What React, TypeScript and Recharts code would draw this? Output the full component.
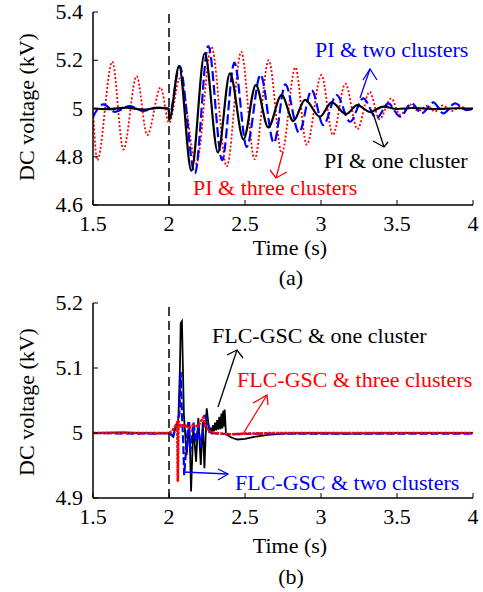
import { LineChart, Line, XAxis, YAxis, ReferenceLine } from 'recharts';

const FONT = "'Liberation Serif', 'Times New Roman', serif";

const timeTicks = [1.5, 2, 2.5, 3, 3.5, 4];
const voltTicksA = [4.6, 4.8, 5, 5.2, 5.4];
const voltTicksB = [4.9, 5, 5.1, 5.2];

// (a) PI controller, [time s, voltage kV]
const piOne = [
  [1.5, 5.0], [1.6, 4.997], [1.72, 5.004], [1.83, 4.995], [1.93, 5.003], [1.997, 5.0],
  [2.003, 4.955], [2.066, 5.176], [2.147, 4.742], [2.235, 5.229], [2.322, 4.818],
  [2.401, 5.146], [2.49, 4.872], [2.571, 5.097], [2.653, 4.922], [2.741, 5.056],
  [2.818, 4.948], [2.895, 5.036], [2.993, 4.966], [3.07, 5.025], [3.165, 4.977],
  [3.239, 5.014], [3.322, 4.986], [3.41, 5.008], [3.5, 4.998], [3.6, 5.002],
  [3.75, 4.998], [3.9, 5.001], [4.0, 5.0],
];
const piTwo = [
  [1.5, 4.966], [1.568, 5.017], [1.645, 4.986], [1.743, 5.01], [1.831, 4.99], [1.908, 5.003],
  [1.997, 5.0], [2.003, 4.975], [2.07, 5.176], [2.17, 4.731], [2.258, 5.259], [2.35, 4.786],
  [2.43, 5.19], [2.511, 4.841], [2.602, 5.14], [2.69, 4.858], [2.765, 5.1], [2.855, 4.9],
  [2.939, 5.076], [3.015, 4.931], [3.103, 5.056], [3.191, 4.945], [3.278, 5.042],
  [3.366, 4.96], [3.443, 5.021], [3.52, 4.966], [3.597, 5.021], [3.663, 4.98],
  [3.739, 5.025], [3.805, 4.98], [3.882, 5.021], [3.958, 4.993], [4.0, 5.0],
];
const piThree = [
  [1.5, 5.0], [1.528, 4.786], [1.627, 5.194], [1.7, 4.83], [1.787, 5.134], [1.857, 4.89],
  [1.945, 5.087], [2.0, 4.94], [2.072, 5.125], [2.18, 4.772], [2.279, 5.256], [2.38, 4.76],
  [2.475, 5.235], [2.563, 4.79], [2.656, 5.2], [2.742, 4.815], [2.831, 5.17], [2.906, 4.85],
  [3.003, 5.139], [3.078, 4.89], [3.16, 5.103], [3.24, 4.915], [3.32, 5.069], [3.385, 4.955],
  [3.462, 5.042], [3.52, 4.973], [3.586, 5.017], [3.64, 4.99], [3.7, 5.012], [3.75, 4.987],
  [3.8, 5.013], [3.86, 4.99], [3.92, 5.008], [3.97, 4.993], [4.0, 5.0],
];

// (b) FLC-GSC
const flcOne = [
  [1.5, 5.0], [1.7, 5.001], [1.9, 4.999], [2.0, 5.0], [2.028, 4.994], [2.046, 5.012],
  [2.061, 5.017], [2.072, 5.1], [2.077, 5.169], [2.085, 5.172], [2.098, 5.028],
  [2.116, 4.966], [2.134, 5.017], [2.145, 4.91], [2.16, 5.012], [2.178, 4.956],
  [2.193, 5.023], [2.209, 4.951], [2.222, 5.017], [2.233, 4.946], [2.248, 5.038],
  [2.266, 5.0], [2.275, 5.006], [2.282, 5.002], [2.29, 5.012], [2.296, 5.003],
  [2.303, 5.016], [2.31, 5.004], [2.317, 5.02], [2.324, 5.005], [2.331, 5.025],
  [2.338, 5.006], [2.345, 5.03], [2.351, 5.007], [2.357, 5.034], [2.362, 5.01],
  [2.366, 5.036], [2.375, 4.998], [2.41, 4.993], [2.45, 4.99], [2.5, 4.991], [2.56, 4.994],
  [2.65, 4.997], [2.75, 4.999], [2.9, 5.0], [3.2, 4.999], [3.5, 5.0], [4.0, 5.0],
];
const flcTwo = [
  [1.5, 5.0], [1.8, 4.999], [2.0, 5.0], [2.028, 4.996], [2.05, 5.012], [2.068, 5.03],
  [2.077, 5.094], [2.085, 5.03], [2.093, 4.99], [2.1, 4.935], [2.108, 4.96],
  [2.127, 5.017], [2.14, 4.971], [2.16, 5.017], [2.178, 4.987], [2.193, 5.012],
  [2.209, 4.978], [2.237, 5.028], [2.259, 5.012], [2.27, 5.0], [2.4, 4.998],
  [2.6, 4.999], [3.0, 4.999], [3.5, 4.999], [4.0, 4.999],
];
const flcThree = [
  [1.5, 5.0], [1.8, 5.0], [2.0, 5.0], [2.02, 5.003], [2.04, 5.01], [2.055, 5.016],
  [2.058, 4.925], [2.062, 5.018], [2.075, 5.01], [2.1, 5.013], [2.13, 5.008],
  [2.16, 5.012], [2.19, 5.01], [2.21, 5.018], [2.226, 5.024], [2.24, 5.012],
  [2.259, 5.003], [2.3, 5.0], [2.4, 4.998], [2.5, 4.999], [2.7, 5.0], [4.0, 5.0],
];

const rows = (pts: number[][]) => pts.map(([t, v]) => ({ t, v }));

const txt = { fontFamily: FONT, fontSize: 22 };

const BottomTick = ({ x, y, payload }: any) => (
  <g>
    <line x1={x} y1={y} x2={x} y2={y - 5} stroke="#000" strokeWidth={1} />
    <text x={x} y={y + 26} textAnchor="middle" fill="#000" style={txt}>
      {String(payload.value)}
    </text>
  </g>
);
const TopTick = ({ x, y }: any) => (
  <line x1={x} y1={y} x2={x} y2={y + 5} stroke="#000" strokeWidth={1} />
);
const LeftTick = ({ x, y, payload }: any) => (
  <g>
    <line x1={x} y1={y} x2={x + 5} y2={y} stroke="#000" strokeWidth={1} />
    <text x={x - 10} y={y + 7} textAnchor="end" fill="#000" style={txt}>
      {String(payload.value)}
    </text>
  </g>
);
const RightTick = ({ x, y }: any) => (
  <line x1={x} y1={y} x2={x - 5} y2={y} stroke="#000" strokeWidth={1} />
);

const Frame = ({ yTicks, domain }: { yTicks: number[]; domain: number[] }) => [
  <XAxis key="xb" dataKey="t" type="number" domain={[1.5, 4]} ticks={timeTicks} interval={0}
    allowDataOverflow height={94} tickSize={0} tickMargin={0} tick={<BottomTick />}
    axisLine={{ stroke: '#000', strokeWidth: 1.5 }} tickLine={false} />,
  <XAxis key="xt" xAxisId="top" orientation="top" type="number" domain={[1.5, 4]}
    ticks={timeTicks} interval={0} height={0} tickSize={0} tickMargin={0} tick={<TopTick />}
    axisLine={{ stroke: '#000', strokeWidth: 1.5 }} tickLine={false} />,
  <YAxis key="yl" dataKey="v" type="number" domain={domain} ticks={yTicks} interval={0}
    allowDataOverflow width={93} tickSize={0} tickMargin={0} tick={<LeftTick />}
    axisLine={{ stroke: '#000', strokeWidth: 1.5 }} tickLine={false} />,
  <YAxis key="yr" yAxisId="right" orientation="right" type="number" domain={domain}
    ticks={yTicks} interval={0} width={0} tickSize={0} tickMargin={0} tick={<RightTick />}
    axisLine={{ stroke: '#000', strokeWidth: 1.5 }} tickLine={false} />,
];

const Arrow = ({ x1, y1, x2, y2, w1, w2, color }: any) => (
  <g stroke={color} strokeWidth={1.3} fill="none">
    <line x1={x1} y1={y1} x2={x2} y2={y2} />
    <polyline points={`${w1[0]},${w1[1]} ${x2},${y2} ${w2[0]},${w2[1]}`} />
  </g>
);

export default function App() {
  return (
    <div style={{ position: 'absolute', left: 0, top: 0, width: 483, height: 592, background: '#fff' }}>
      <div style={{ position: 'absolute', left: 0, top: 0 }}>
        <LineChart width={483} height={299} margin={{ top: 12, right: 10, bottom: 0, left: 0 }}>
          {Frame({ yTicks: voltTicksA, domain: [4.6, 5.4] })}
          <ReferenceLine x={2} stroke="#000" strokeWidth={1.5} strokeDasharray="9 5" />
          <Line data={rows(piThree)} dataKey="v" type="monotone" stroke="#ff0000" strokeWidth={1.8}
            strokeDasharray="2 2" dot={false} activeDot={false} isAnimationActive={false} />
          <Line data={rows(piTwo)} dataKey="v" type="monotone" stroke="#0000ff" strokeWidth={2.2}
            strokeDasharray="10 4" dot={false} activeDot={false} isAnimationActive={false} />
          <Line data={rows(piOne)} dataKey="v" type="monotone" stroke="#000" strokeWidth={2.2}
            dot={false} activeDot={false} isAnimationActive={false} />
        </LineChart>
      </div>
      <div style={{ position: 'absolute', left: 0, top: 291 }}>
        <LineChart width={483} height={301} margin={{ top: 12, right: 10, bottom: 0, left: 0 }}>
          {Frame({ yTicks: voltTicksB, domain: [4.9, 5.2] })}
          <ReferenceLine x={2} stroke="#000" strokeWidth={1.5} strokeDasharray="9 5" />
          <Line data={rows(flcOne)} dataKey="v" type="linear" stroke="#000" strokeWidth={1.8}
            dot={false} activeDot={false} isAnimationActive={false} />
          <Line data={rows(flcTwo)} dataKey="v" type="linear" stroke="#0000ff" strokeWidth={2.2}
            strokeDasharray="8 3" dot={false} activeDot={false} isAnimationActive={false} />
          <Line data={rows(flcThree)} dataKey="v" type="linear" stroke="#ff0000" strokeWidth={2.6}
            strokeDasharray="3 1" dot={false} activeDot={false} isAnimationActive={false} />
        </LineChart>
      </div>
      <svg width={483} height={592} style={{ position: 'absolute', left: 0, top: 0, pointerEvents: 'none' }}>
        <g style={txt} fill="#000">
          <text transform="translate(27,107) rotate(-90)" y={7} textAnchor="middle">DC voltage (kV)</text>
          <text x={290} y={255} textAnchor="middle">Time (s)</text>
          <text x={291} y={285} textAnchor="middle">(a)</text>
          <text transform="translate(27,402) rotate(-90)" y={7} textAnchor="middle">DC voltage (kV)</text>
          <text x={290} y={553} textAnchor="middle">Time (s)</text>
          <text x={291} y={584} textAnchor="middle">(b)</text>
        </g>
        <text x={315} y={57} fill="#0000ff" style={txt}>PI &amp; two clusters</text>
        <Arrow x1={360} y1={98} x2={370} y2={69} w1={[363, 80]} w2={[377, 80]} color="#0000ff" />
        <text x={324} y={168} fill="#000" style={txt}>PI &amp; one cluster</text>
        <Arrow x1={373} y1={113} x2={384} y2={147} w1={[373, 141]} w2={[388, 142]} color="#000" />
        <text x={193} y={195} fill="#ff0000" style={txt}>PI &amp; three clusters</text>
        <Arrow x1={283} y1={152} x2={276} y2={178} w1={[270, 170]} w2={[287, 172]} color="#ff0000" />

        <text x={212} y={343} fill="#000" style={txt}>FLC-GSC &amp; one cluster</text>
        <Arrow x1={218} y1={407} x2={237} y2={350} w1={[227, 355]} w2={[243, 358]} color="#000" />
        <text x={237} y={387} fill="#ff0000" style={txt}>FLC-GSC &amp; three clusters</text>
        <Arrow x1={243} y1={434} x2={267} y2={395} w1={[253, 403]} w2={[268, 405]} color="#ff0000" />
        <text x={235} y={490} fill="#0000ff" style={txt}>FLC-GSC &amp; two clusters</text>
        <Arrow x1={183} y1={472} x2={228} y2={474} w1={[218, 469]} w2={[218, 480]} color="#0000ff" />
      </svg>
    </div>
  );
}
